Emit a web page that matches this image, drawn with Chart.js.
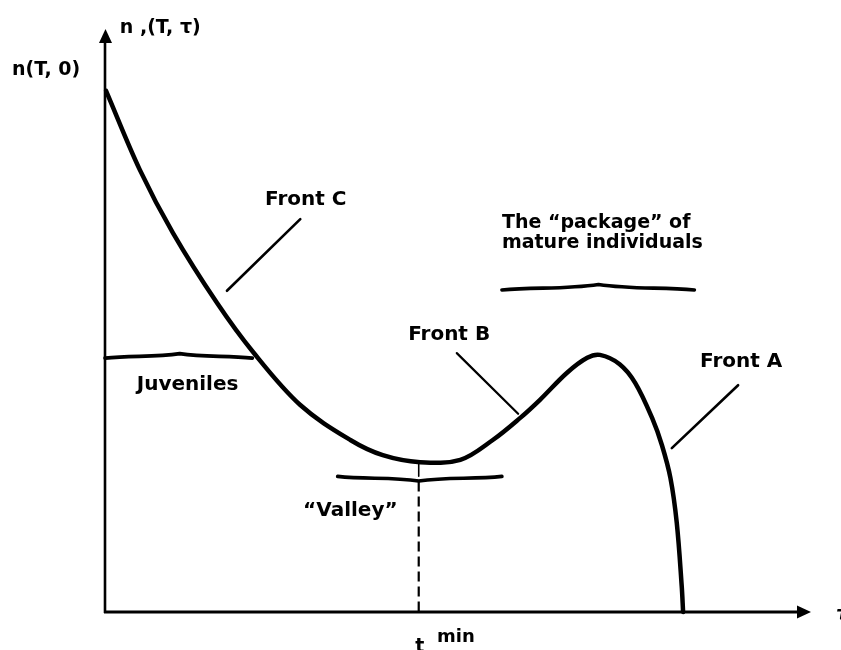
<!DOCTYPE html>
<html><head><meta charset="utf-8">
<script src="https://cdn.jsdelivr.net/npm/chart.js@4"></script>
<style>html,body{margin:0;padding:0;background:#fff}canvas{display:block}</style>
</head><body>
<canvas id="c" width="841" height="650"></canvas>
<script>
// Age (tau) and density n(T, tau) (arbitrary units, 0..100)
const tau     = [0.15, 4.96, 9.65, 15.9, 21.0, 27.7, 34.8, 39.4, 44.7, 50.4, 55.0, 58.9, 61.7, 65.5, 68.4, 70.2, 73.0, 75.2, 77.7, 79.0, 80.2, 81.1, 81.8, 82.0];
const density = [89.4, 75.8, 65.0, 53.0, 44.6, 35.5, 29.5, 26.9, 25.7, 26.1, 29.5, 33.3, 36.4, 41.0, 43.6, 44.1, 42.5, 39.3, 33.0, 28.6, 23.0, 15.3, 4.5, 0];

// Valley minimum position
const tauMin = 44.5;
const nMin = 25.7;

const FONT = '"DejaVu Sans", sans-serif';

const decor = {
  id: 'decor',
  beforeDatasetsDraw(chart) {
    const {ctx, chartArea: a} = chart;
    ctx.save();
    ctx.strokeStyle = '#000';
    ctx.fillStyle = '#000';
    // y axis
    ctx.lineWidth = 2.6;
    ctx.beginPath(); ctx.moveTo(a.left, a.bottom + 1); ctx.lineTo(a.left, a.top + 10); ctx.stroke();
    ctx.beginPath(); ctx.moveTo(a.left + 0.5, a.top); ctx.lineTo(a.left - 6, a.top + 14); ctx.lineTo(a.left + 7, a.top + 14); ctx.closePath(); ctx.fill();
    // x axis
    ctx.lineWidth = 3;
    ctx.beginPath(); ctx.moveTo(a.left - 1, a.bottom); ctx.lineTo(a.right - 10, a.bottom); ctx.stroke();
    ctx.beginPath(); ctx.moveTo(a.right + 1, a.bottom); ctx.lineTo(a.right - 13, a.bottom - 6.5); ctx.lineTo(a.right - 13, a.bottom + 6.5); ctx.closePath(); ctx.fill();
    ctx.restore();
  },
  afterDatasetsDraw(chart) {
    const {ctx} = chart;
    const xs = chart.scales.x, ys = chart.scales.y;
    const X = v => xs.getPixelForValue(v), Y = v => ys.getPixelForValue(v);
    ctx.save();
    ctx.strokeStyle = '#000'; ctx.fillStyle = '#000';
    ctx.lineCap = 'round'; ctx.lineJoin = 'round';

    const line = (x1, y1, x2, y2, w) => {
      ctx.lineWidth = w; ctx.beginPath(); ctx.moveTo(X(x1), Y(y1)); ctx.lineTo(X(x2), Y(y2)); ctx.stroke();
    };
    const text = (s, x, y, size, style) => {
      ctx.font = (style || 'bold') + ' ' + size + 'px ' + FONT;
      ctx.textAlign = 'left'; ctx.textBaseline = 'alphabetic';
      ctx.fillText(s, X(x), Y(y));
    };
    // curly brace (horizontal), dir=-1 cusp up, +1 cusp down
    const brace = (x1, x2, yv, xc, dir, amp) => {
      const l = X(x1), r = X(x2), c = X(xc), y = Y(yv);
      ctx.lineWidth = 3.6;
      ctx.beginPath();
      ctx.moveTo(l, y - dir * 1.5);
      ctx.bezierCurveTo(l + (c - l) * 0.35, y + dir * 1.5, c - (c - l) * 0.35, y - dir * 1.0, c, y + dir * amp);
      ctx.bezierCurveTo(c + (r - c) * 0.35, y - dir * 1.0, r - (r - c) * 0.35, y + dir * 1.5, r, y - dir * 1.5);
      ctx.stroke();
    };

    // Axis labels
    text('n(T, 0)', -13.2, 92.1, 19);
    text('n ,(T, \u03C4)', 2.1, 99.3, 19);
    text('\u03C4', 103.7, -1.4, 20, 'bold italic');
    text('t', 44.0, -6.8, 19);
    text('min', 47.1, -5.1, 18);

    // Front labels and leaders
    text('Front C', 22.7, 69.8, 20);
    line(27.7, 67.4, 17.3, 55.1, 2.6);
    text('Front B', 43.0, 46.7, 20);
    line(49.9, 44.4, 58.6, 34.0, 2.2);
    text('Front A', 84.4, 42.0, 20);
    line(89.8, 38.9, 80.4, 28.1, 2.6);

    // Package of mature individuals
    text('The \u201Cpackage\u201D of', 56.3, 65.9, 19);
    text('mature individuals', 56.3, 62.4, 19);
    brace(56.3, 83.6, 55.5, 70.0, -1, 4);

    // Juveniles
    brace(0, 20.9, 43.8, 10.6, -1, 3);
    text('Juveniles', 4.5, 38.1, 20);

    // Valley
    brace(33.0, 56.3, 23.0, tauMin, 1, 3);
    text('\u201CValley\u201D', 28.1, 16.5, 20);
    line(tauMin, nMin, tauMin, 23.3, 1.6);
    ctx.lineCap = 'butt';
    ctx.setLineDash([10, 5]);
    line(tauMin, 22.4, tauMin, 0, 2.2);
    ctx.setLineDash([]);
    ctx.restore();
  }
};

new Chart(document.getElementById('c'), {
  type: 'line',
  data: {
    datasets: [{
      data: tau.map((t, i) => ({x: t, y: density[i]})),
      borderColor: '#000',
      borderWidth: 4.5,
      pointRadius: 0,
      fill: false,
      tension: 0.35,
      borderCapStyle: 'round',
      borderJoinStyle: 'round',
      clip: false
    }]
  },
  options: {
    responsive: false,
    animation: false,
    devicePixelRatio: 1,
    layout: {padding: {left: 105, right: 31, top: 29, bottom: 38}},
    plugins: {legend: {display: false}, tooltip: {enabled: false}},
    scales: {
      x: {type: 'linear', min: 0, max: 100, display: false},
      y: {type: 'linear', min: 0, max: 100, display: false}
    }
  },
  plugins: [decor]
});
</script>
</body></html>
